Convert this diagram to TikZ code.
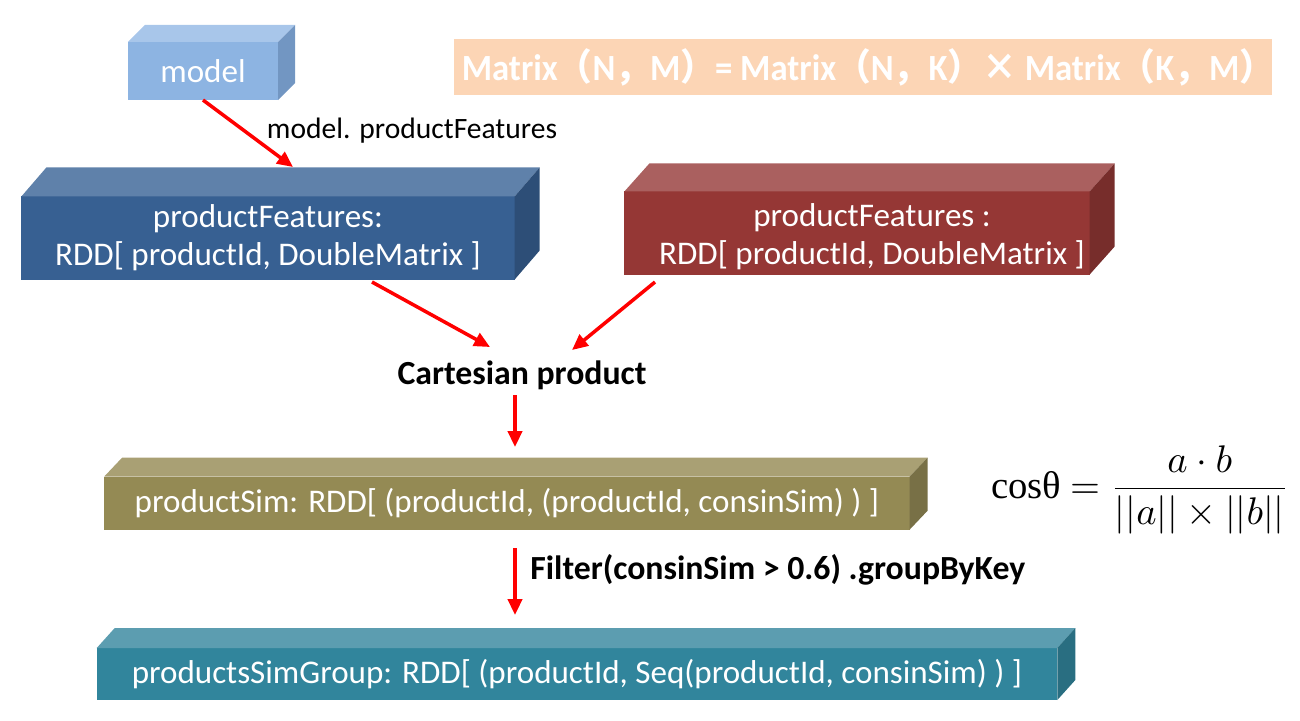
\documentclass[tikz,border=0pt]{standalone}
\usepackage{fontspec}
\setmainfont{Carlito}
\newfontfamily\cjk{Noto Sans CJK SC}
\newfontfamily\grserif{Liberation Serif}
\usetikzlibrary{calc,arrows.meta}

\definecolor{modelfront}{HTML}{8DB4E2}
\definecolor{modeltop}{HTML}{A8C6EA}
\definecolor{modelside}{HTML}{7296C2}
\definecolor{bluefront}{HTML}{376092}
\definecolor{bluetop}{HTML}{5F81AA}
\definecolor{blueside}{HTML}{2D4E77}
\definecolor{redfront}{HTML}{953735}
\definecolor{redtop}{HTML}{AA605F}
\definecolor{redside}{HTML}{772D2B}
\definecolor{olivefront}{HTML}{948A54}
\definecolor{olivetop}{HTML}{A9A074}
\definecolor{oliveside}{HTML}{787046}
\definecolor{tealfront}{HTML}{31859C}
\definecolor{tealtop}{HTML}{5C9DB0}
\definecolor{tealside}{HTML}{296E81}
\definecolor{peach}{HTML}{FCD5B5}

% top and right faces of a box node: name, top colour, side colour, depth
\newcommand\boxfaces[4]{%
  \fill[#2] (#1.north west) -- ++(#4) -- ($(#1.north east)+(#4)$) -- (#1.north east) -- cycle;
  \fill[#3] (#1.north east) -- ++(#4) -- ($(#1.south east)+(#4)$) -- (#1.south east) -- cycle;}

\tikzset{
  block/.style={rectangle, outer sep=0pt, inner sep=0pt, text=white, align=center,
    font=\fontsize{9.4}{10.8}\selectfont},
  flow/.style={draw=red, line width=1pt, -{Triangle[length=4.5pt,width=4pt]}},
  note/.style={font=\fontsize{8.4}{10}\selectfont},
  step label/.style={font=\bfseries\fontsize{9.6}{11}\selectfont}
}

\begin{document}
\begin{tikzpicture}[x=0.01cm,y=-0.01cm]
\useasboundingbox (0,0) rectangle (1300,720);

% boxes
\node[block, fill=modelfront, minimum width=1.5cm, minimum height=0.58cm] (model) at (203,71) {model};
\boxfaces{model}{modeltop}{modelside}{17,-17}

\node[block, fill=bluefront, minimum width=4.93cm, minimum height=0.83cm] (pfblue) at (268,238)
  {productFeatures:\\RDD[ productId, DoubleMatrix ]};
\boxfaces{pfblue}{bluetop}{blueside}{25,-29}

\node[block, fill=redfront, minimum width=4.65cm, minimum height=0.83cm] (pfred) at (857,233) {};
\boxfaces{pfred}{redtop}{redside}{25,-28}
\node[block] (pfredtext) at (872,237) {productFeatures :\\RDD[ productId, DoubleMatrix ]};

\node[block, fill=olivefront, minimum width=8.05cm, minimum height=0.53cm] (sim) at (507,503)
  {productSim: RDD[ (productId, (productId, consinSim) ) ]};
\boxfaces{sim}{olivetop}{oliveside}{18,-19}

\node[block, fill=tealfront, minimum width=9.6cm, minimum height=0.52cm] (group) at (577,674)
  {productsSimGroup: RDD[ (productId, Seq(productId, consinSim) ) ]};
\boxfaces{group}{tealtop}{tealside}{18,-20}

\node[block, fill=peach, minimum width=8.17cm, minimum height=0.55cm,
  font=\bfseries\fontsize{10.5}{12}\selectfont] (matrix) at (863,67) {};
\node[block, font=\bfseries\fontsize{10.5}{12}\selectfont] (matrixtext) at (868,67)
  {\scalebox{0.94}[1]{Matrix{\cjk （}N{\cjk ，}M{\cjk ）}= Matrix{\cjk （}N{\cjk ，}K{\cjk ）}{\cjk ×} Matrix{\cjk （}K{\cjk ，}M{\cjk ）}}};

% texts
\node[note] (featlabel) at (412,131) {model. productFeatures};
\node[step label] (cart) at (522,375) {Cartesian product};
\node[step label, anchor=west] (filter) at (518,570) {Filter(consinSim > 0.6) .groupByKey};
\node[font=\fontsize{11}{13}\selectfont] (cosine) at (1140,490)
  {{\grserif cosθ} $= \displaystyle\frac{a\cdot b}{||a||\times||b||}$};

% arrows
\coordinate (pfin) at (293,167);
\coordinate (blueout) at (372,282);
\coordinate (redout) at (655,282);
\coordinate (cartin1) at (490,347);
\coordinate (cartin2) at (572,350);
\coordinate (cartout) at (515,395);
\coordinate (simin) at (515,447);
\coordinate (simout) at (515,548);
\coordinate (groupin) at (515,615);

\draw[flow] (model.south) -- (pfin);
\draw[flow] (blueout) -- (cartin1);
\draw[flow] (redout) -- (cartin2);
\draw[flow] (cartout) -- (simin);
\draw[flow] (simout) -- (groupin);

\end{tikzpicture}
\end{document}
